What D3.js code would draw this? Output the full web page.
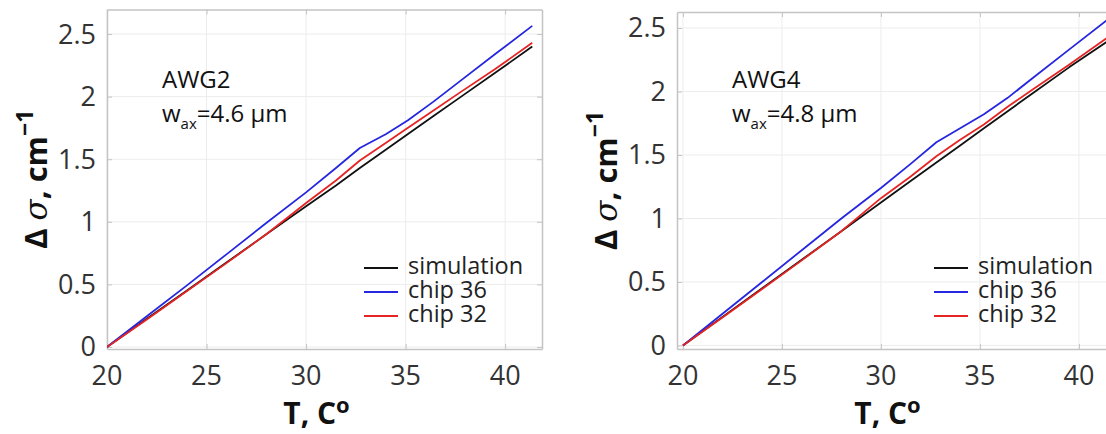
<!DOCTYPE html>
<html>
<head>
<meta charset="utf-8">
<script src="https://cdn.jsdelivr.net/npm/d3@7"></script>
<style>
  html, body { margin: 0; padding: 0; background: #fff; }
  svg { display: block; font-family: "Open Sans", "DejaVu Sans", sans-serif; }
</style>
</head>
<body>
<svg id="chart" width="1106" height="434"></svg>
<script>
// Temperature sweep (°C) and measured / simulated shift of the wavenumber Δσ (cm⁻¹)
const tempAWG2   = [20, 22, 24, 26, 28, 30, 31.5, 32.7, 34, 35.1, 36.4, 37.7, 39.5, 41.36];
const simAWG2    = [0, 0.225, 0.45, 0.675, 0.9, 1.125, 1.29, 1.43, 1.575, 1.70, 1.845, 1.99, 2.19, 2.40];
const chip36AWG2 = [0, 0.245, 0.49, 0.74, 0.99, 1.235, 1.43, 1.59, 1.70, 1.81, 1.96, 2.12, 2.34, 2.565];
const chip32AWG2 = [0, 0.22, 0.445, 0.67, 0.9, 1.15, 1.33, 1.49, 1.63, 1.75, 1.89, 2.03, 2.22, 2.43];

const tempAWG4   = [20, 22, 24, 26, 28, 30, 31.5, 32.8, 34, 35.2, 36.4, 37.7, 39.5, 41.4];
const simAWG4    = [0, 0.225, 0.45, 0.675, 0.9, 1.125, 1.295, 1.44, 1.575, 1.71, 1.845, 1.99, 2.19, 2.39];
const chip36AWG4 = [0, 0.25, 0.50, 0.75, 1.0, 1.24, 1.43, 1.60, 1.71, 1.82, 1.95, 2.11, 2.33, 2.56];
const chip32AWG4 = [0, 0.22, 0.445, 0.67, 0.9, 1.16, 1.33, 1.49, 1.62, 1.74, 1.88, 2.02, 2.21, 2.42];

const seriesNames  = ["simulation", "chip 36", "chip 32"];
const seriesColors = ["#111111", "#2626e0", "#e62424"];

const xTicks = [20, 25, 30, 35, 40];
const yTicks = [0, 0.5, 1, 1.5, 2, 2.5];

const panels = [
  {
    title: "AWG2", width: "4.6 µm",
    temp: tempAWG2, values: [simAWG2, chip36AWG2, chip32AWG2],
    xDomain: [20, 41.85], yDomain: [-0.016, 2.696],
    box: { left: 107, right: 542, top: 9.5, bottom: 349 }
  },
  {
    title: "AWG4", width: "4.8 µm",
    temp: tempAWG4, values: [simAWG4, chip36AWG4, chip32AWG4],
    xDomain: [19.7, 41.77], yDomain: [-0.028, 2.626],
    box: { left: 677, right: 1114, top: 12, bottom: 349 }
  }
];

const svg = d3.select("#chart");
const fmt = d => (d === 0 ? "0" : String(d));

panels.forEach(p => {
  const b = p.box;
  const x = d3.scaleLinear().domain(p.xDomain).range([b.left, b.right]);
  const y = d3.scaleLinear().domain(p.yDomain).range([b.bottom, b.top]);
  const g = svg.append("g");

  // grid
  g.append("g").selectAll("line").data(xTicks).join("line")
    .attr("x1", d => x(d)).attr("x2", d => x(d))
    .attr("y1", b.top).attr("y2", b.bottom)
    .attr("stroke", "#ececec").attr("stroke-width", 1);
  g.append("g").selectAll("line").data(yTicks).join("line")
    .attr("x1", b.left).attr("x2", b.right)
    .attr("y1", d => y(d)).attr("y2", d => y(d))
    .attr("stroke", "#ececec").attr("stroke-width", 1);

  // axes with inward ticks and box
  const axisStyle = sel => {
    sel.select(".domain").attr("stroke", "#c4c4c4").attr("stroke-width", 1.5);
    sel.selectAll(".tick line").attr("stroke", "#c4c4c4");
    sel.selectAll(".tick text").remove();
  };
  g.append("g").attr("transform", `translate(0,${b.bottom})`)
    .call(d3.axisBottom(x).tickValues(xTicks).tickSizeInner(-5).tickSizeOuter(0)).call(axisStyle);
  g.append("g").attr("transform", `translate(0,${b.top})`)
    .call(d3.axisTop(x).tickValues(xTicks).tickSizeInner(-5).tickSizeOuter(0)).call(axisStyle);
  g.append("g").attr("transform", `translate(${b.left},0)`)
    .call(d3.axisLeft(y).tickValues(yTicks).tickSizeInner(-5).tickSizeOuter(0)).call(axisStyle);
  g.append("g").attr("transform", `translate(${b.right},0)`)
    .call(d3.axisRight(y).tickValues(yTicks).tickSizeInner(-5).tickSizeOuter(0)).call(axisStyle);

  // tick labels
  g.append("g").selectAll("text").data(xTicks).join("text")
    .attr("x", d => x(d)).attr("y", 385)
    .attr("text-anchor", "middle").attr("font-size", 27).attr("fill", "#333")
    .text(fmt);
  g.append("g").selectAll("text").data(yTicks).join("text")
    .attr("x", b.left - 11).attr("y", d => y(d) + 9.5)
    .attr("text-anchor", "end").attr("font-size", 27).attr("fill", "#333")
    .text(fmt);

  // axis titles
  const xt = g.append("text")
    .attr("x", (b.left + b.right) / 2 - 8).attr("y", 424)
    .attr("text-anchor", "middle").attr("font-size", 30).attr("font-weight", "bold").attr("fill", "#111");
  xt.append("tspan").text("T, C");
  xt.append("tspan").attr("dy", -11).attr("font-size", 22).text("o");

  const cy = (b.top + b.bottom) / 2;
  const yt = g.append("text")
    .attr("transform", `translate(${b.left - 60},${cy}) rotate(-90)`)
    .attr("text-anchor", "middle").attr("font-size", 31).attr("font-weight", "bold").attr("fill", "#111");
  yt.append("tspan").text("Δ ");
  yt.append("tspan").attr("font-family", "DejaVu Serif, serif").attr("font-style", "italic")
    .attr("font-weight", "normal").text("σ");
  yt.append("tspan").text(", cm");
  yt.append("tspan").attr("dy", -14).attr("font-size", 23).text("−1");

  // annotation
  const ax0 = b.left + 55;
  g.append("text").attr("x", ax0).attr("y", 88)
    .attr("font-size", 24).attr("fill", "#111").text(p.title);
  const wt = g.append("text").attr("x", ax0).attr("y", 122)
    .attr("font-size", 24).attr("fill", "#111");
  wt.append("tspan").text("w");
  wt.append("tspan").attr("dy", 7).attr("font-size", 15).text("ax");
  wt.append("tspan").attr("dy", -7).text("=" + p.width);

  // data lines
  const line = d3.line().x(d => x(d[0])).y(d => y(d[1]));
  const clipId = "clip-" + p.title;
  svg.append("clipPath").attr("id", clipId).append("rect")
    .attr("x", b.left).attr("y", b.top).attr("width", b.right - b.left).attr("height", b.bottom - b.top);
  const lg = g.append("g").attr("clip-path", `url(#${clipId})`);
  p.values.forEach((vals, i) => {
    lg.append("path")
      .datum(p.temp.map((t, k) => [t, vals[k]]))
      .attr("d", line)
      .attr("fill", "none")
      .attr("stroke", seriesColors[i])
      .attr("stroke-width", 1.8)
      .attr("stroke-linejoin", "round");
  });

  // legend
  const lgX = b.left + 257;
  const leg = g.append("g");
  seriesNames.forEach((name, i) => {
    const ly = 268 + i * 24;
    leg.append("line")
      .attr("x1", lgX).attr("x2", lgX + 34).attr("y1", ly).attr("y2", ly)
      .attr("stroke", seriesColors[i]).attr("stroke-width", 2);
    leg.append("text")
      .attr("x", lgX + 44).attr("y", ly + 6)
      .attr("font-size", 23.5).attr("fill", "#222").text(name);
  });
});
</script>
</body>
</html>
